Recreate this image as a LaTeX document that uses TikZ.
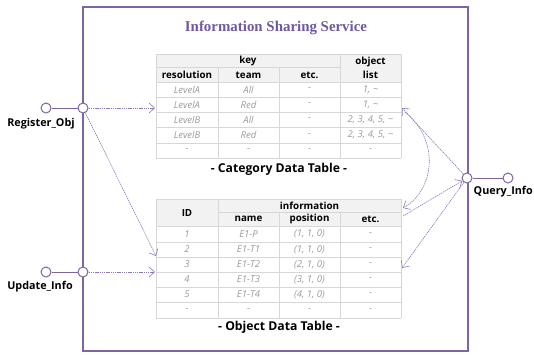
\documentclass[tikz,border=0pt]{standalone}
\usepackage{fontspec}
\setmainfont{Open Sans}
\newfontfamily\titlefont{Liberation Serif}
\usetikzlibrary{arrows.meta}
\definecolor{boxpurple}{RGB}{128,100,162}
\definecolor{titlepurple}{RGB}{112,88,160}
\definecolor{flowpurple}{RGB}{140,120,190}
\definecolor{gridgray}{RGB}{215,215,215}
\definecolor{hdrgray}{RGB}{242,242,242}
\definecolor{bodygray}{RGB}{155,155,155}
\tikzset{
  boxline/.style={draw=boxpurple,line width=1.2pt},
  portc/.style={circle,draw=boxpurple,fill=white,line width=1pt,minimum size=10pt,inner sep=0pt},
  portline/.style={draw=boxpurple,line width=1pt},
  portlabel/.style={font=\fontsize{10.8}{12}\selectfont\bfseries,text=black,inner sep=0pt},
  titlestyle/.style={font=\titlefont\fontsize{14.9}{17}\selectfont\bfseries,text=titlepurple,inner sep=0pt},
  hdr/.style={font=\fontsize{9.8}{14}\selectfont\bfseries,text=black,inner sep=0pt,align=center},
  cell/.style={font=\fontsize{9.5}{11}\selectfont\itshape,text=bodygray,inner sep=0pt},
  caption/.style={font=\fontsize{12.2}{14}\selectfont\bfseries,text=black,inner sep=0pt},
  gridline/.style={draw=gridgray,line width=0.7pt},
  flow/.style={draw=flowpurple,line width=0.6pt,dash pattern=on 1.4pt off 0.8pt,
    -{Straight Barb[length=5.5pt,width=10pt,line width=0.6pt]}},
}
\begin{document}
\begin{tikzpicture}[x=1pt,y=-1pt]
\useasboundingbox (0,0) rectangle (534,354);
\fill[white] (0,0) rectangle (534,354);
% service box
\draw[boxline] (83,7) rectangle (468,351);
\node[titlestyle] (title) at (276,28) {Information Sharing Service};

% ---------- Category Data Table ----------
\fill[hdrgray] (156,54) rectangle (401,82);
\foreach \y in {54,82,97,112,127,143,158} \draw[gridline] (156,\y) -- (401,\y);
\draw[gridline] (156,67) -- (340,67);
\foreach \x in {156,340,401} \draw[gridline] (\x,54) -- (\x,158);
\foreach \x in {218,279} \draw[gridline] (\x,67) -- (\x,158);
\node[hdr] (ckey) at (248,60.5) {key};
\node[hdr] (cobj) at (370.5,68) {object\\list};
\node[hdr] (cres) at (187,75) {resolution};
\node[hdr] (cteam) at (248.5,75) {team};
\node[hdr] (cetc) at (309.5,75) {etc.};
\foreach \r/\yy/\a/\b/\c/\d in {1/89.5/LevelA/All/-/{1, \textasciitilde},
  2/104.5/LevelA/Red/-/{1, \textasciitilde},
  3/119.5/LevelB/All/-/{2, 3, 4, 5, \textasciitilde},
  4/135/LevelB/Red/-/{2, 3, 4, 5, \textasciitilde},
  5/150.5/-/-/-/-}{
  \node[cell] (ca\r) at (187,\yy) {\a};
  \node[cell] (cb\r) at (248.5,\yy) {\b};
  \node[cell] (cc\r) at (309.5,\yy) {\c};
  \node[cell] (cd\r) at (370.5,\yy) {\d};
}
\node[caption] (ccap) at (279,169) {- Category Data Table -};

% ---------- Object Data Table ----------
\fill[hdrgray] (156,199) rectangle (401,226);
\foreach \y in {199,226,242,257,272,287,302,318} \draw[gridline] (156,\y) -- (401,\y);
\draw[gridline] (218,212) -- (401,212);
\foreach \x in {156,218,401} \draw[gridline] (\x,199) -- (\x,318);
\foreach \x in {279,340} \draw[gridline] (\x,212) -- (\x,318);
\node[hdr] (oid) at (187,212.5) {ID};
\node[hdr] (oinfo) at (309.5,205.5) {information};
\node[hdr] (oname) at (248.5,219) {name};
\node[hdr] (opos) at (309.5,219) {position};
\node[hdr] (oetc) at (370.5,219) {etc.};
\foreach \r/\yy/\a/\b/\c in {1/234/1/E1-P/{(1, 1, 0)},
  2/249.5/2/E1-T1/{(1, 1, 0)},
  3/264.5/3/E1-T2/{(2, 1, 0)},
  4/279.5/4/E1-T3/{(3, 1, 0)},
  5/294.5/5/E1-T4/{(4, 1, 0)},
  6/310/-/-/-}{
  \node[cell] (oa\r) at (187,\yy) {\a};
  \node[cell] (ob\r) at (248.5,\yy) {\b};
  \node[cell] (oc\r) at (309.5,\yy) {\c};
  \node[cell] (od\r) at (370.5,\yy) {-};
}
\node[caption] (ocap) at (279,327) {- Object Data Table -};

% ---------- Ports ----------
\node[portc] (regout) at (46,108) {};
\node[portc] (regin) at (83,108) {};
\draw[portline] (regout) -- (regin);
\node[portlabel] (reglabel) at (41,124) {Register\_Obj};

\node[portc] (updout) at (46,272) {};
\node[portc] (updin) at (83,272) {};
\draw[portline] (updout) -- (updin);
\node[portlabel] (updlabel) at (40,287) {Update\_Info};

\node[portc] (qin) at (467,178) {};
\node[portc] (qout) at (508,178) {};
\draw[portline] (qin) -- (qout);
\node[portlabel,anchor=east] (qlabel) at (533,192) {Query\_Info};

% ---------- Connectors ----------
\coordinate (catL) at (155,108);
\coordinate (objL1) at (156,256);
\coordinate (objL2) at (155,272);
\coordinate (catR) at (402,108);
\coordinate (catR2) at (405,112);
\coordinate (objR0) at (403,208);
\coordinate (objR1) at (403,216);
\coordinate (objR2) at (402,268);
\draw[flow] (regin) -- (catL);
\draw[flow] (regin) -- (objL1);
\draw[flow] (updin) -- (objL2);
\draw[flow] (qin) -- (catR);
\draw[flow] (catR2) .. controls (440,140) and (435,190) .. (objR0);
\draw[flow] (objR1) -- (qin);
\draw[flow] (qin) -- (objR2);
\end{tikzpicture}
\end{document}
